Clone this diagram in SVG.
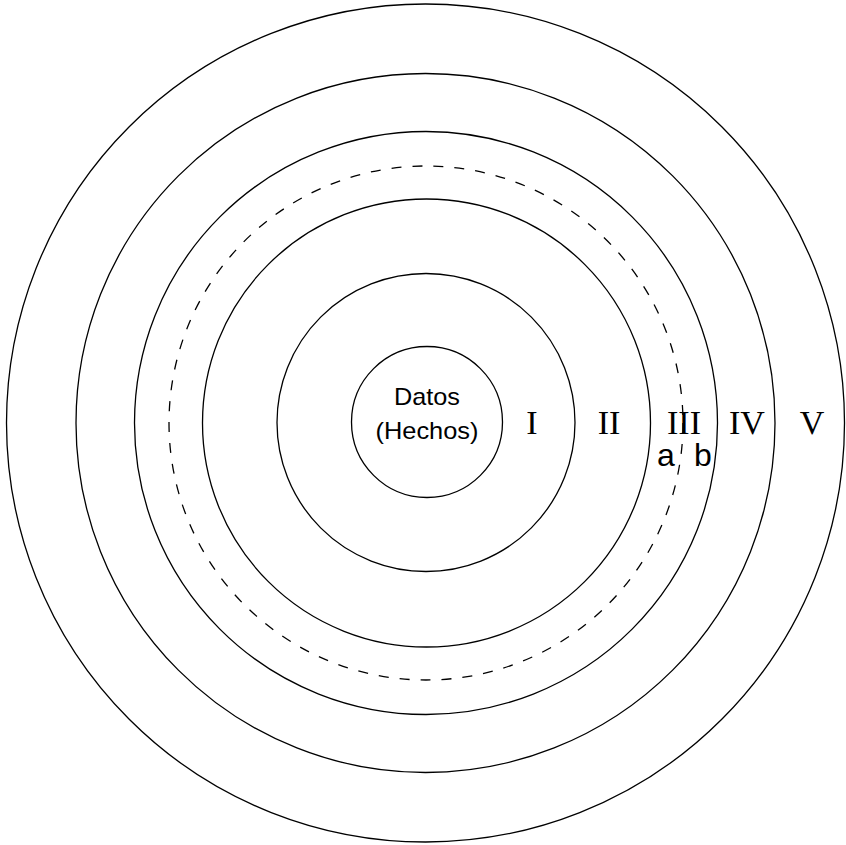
<svg xmlns="http://www.w3.org/2000/svg" width="846" height="845" viewBox="0 0 846 845">
<style>
.c{fill:none;stroke:#000;stroke-width:1.3}
.d{fill:none;stroke:#000;stroke-width:1.3;stroke-dasharray:10 11}
.s{font-family:"Liberation Sans",Arial,sans-serif;font-size:24px;text-anchor:middle;fill:#000}
.r{font-family:"Liberation Serif","Times New Roman",serif;font-size:34px;text-anchor:middle;fill:#000}
.l{font-family:"Liberation Sans",Arial,sans-serif;font-size:32px;text-anchor:middle;fill:#000}
</style>
<rect width="846" height="845" fill="#fff"/>
<g id="ring-V"><circle class="c" cx="425.5" cy="423" r="419"/><text class="r" x="812" y="434">V</text></g>
<g id="ring-IV"><circle class="c" cx="425.5" cy="423" r="349.5"/><text class="r" x="747" y="434">IV</text></g>
<g id="ring-III"><circle class="c" cx="426" cy="423" r="291.5"/><text class="r" x="684" y="434">III</text><text class="l" x="666" y="466">a</text><text class="l" x="703" y="466">b</text></g>
<g id="ring-IIIab"><circle class="d" cx="426" cy="423" r="257"/></g>
<g id="ring-II"><circle class="c" cx="426.5" cy="423" r="224"/><text class="r" x="609" y="434">II</text></g>
<g id="ring-I"><circle class="c" cx="426" cy="422.5" r="149"/><text class="r" x="532" y="434">I</text></g>
<g id="datos"><circle class="c" cx="427" cy="422" r="75.5"/><text class="s" x="427" y="405" textLength="66" lengthAdjust="spacingAndGlyphs">Datos</text><text class="s" x="427" y="439" textLength="103" lengthAdjust="spacingAndGlyphs">(Hechos)</text></g>
</svg>
